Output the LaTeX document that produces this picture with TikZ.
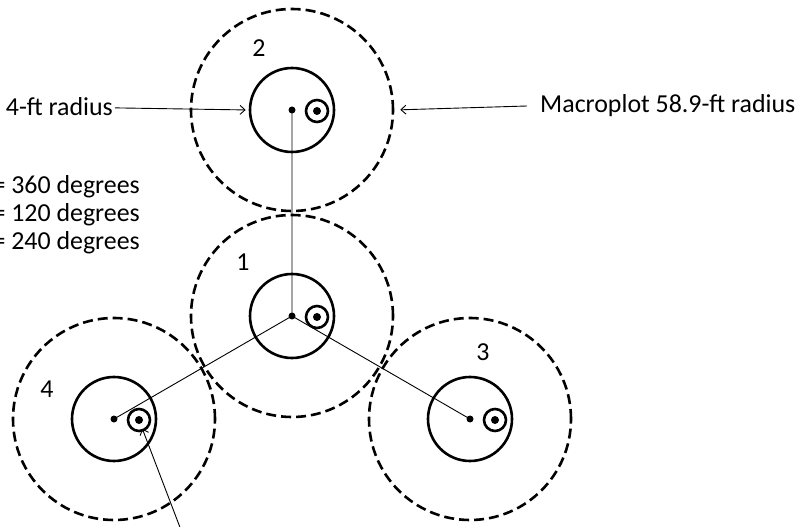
\documentclass[tikz,border=0pt]{standalone}
\usepackage{fontspec}
\setmainfont{Carlito}
\usetikzlibrary{calc,arrows.meta}

\begin{document}
\begin{tikzpicture}[x=1bp,y=-1bp,
  macro/.style={circle,draw,line width=2.6bp,dash pattern=on 10bp off 5bp,minimum size=202bp,inner sep=0pt},
  sub/.style={circle,draw,line width=2.6bp,minimum size=84bp,inner sep=0pt},
  micro/.style={circle,draw,line width=2.6bp,minimum size=22bp,inner sep=0pt},
  dot/.style={circle,fill,minimum size=7bp,inner sep=0pt},
  lbl/.style={font=\fontsize{26}{30}\selectfont,inner sep=2bp},
  arr/.style={-{Straight Barb[length=5bp,width=9bp]},line width=0.9bp}]
\useasboundingbox (0,0) rectangle (808,527);
\clip (0,0) rectangle (808,527);
% plots: macroplot, subplot, center, microplot
\foreach \n/\x/\y in {1/292/316, 2/292/110, 3/470/419, 4/114/419}{
  \coordinate (c\n) at (\x,\y);
  \node[macro] (m\n) at (c\n) {};
  \node[sub] (s\n) at (c\n) {};
  \node[dot] (d\n) at (c\n) {};
  \node[micro] (u\n) at ($(c\n)+(25,1)$) {};
  \node[dot,minimum size=8bp] at (u\n) {};
}
\draw[line width=0.9bp] (d2.center) -- (d1.center) -- (d3.center);
\draw[line width=0.9bp] (d1.center) -- (d4.center);
% plot numbers
\node[lbl] (n1) at (243,262) {1};
\node[lbl] (n2) at (259,48) {2};
\node[lbl] (n3) at (483,352) {3};
\node[lbl] (n4) at (47,389) {4};
% labels
\node[lbl,anchor=east] (tsub) at (115,107) {4-ft radius};
\draw[arr,shorten >=3bp] (tsub) -- (s2.west);
\node[lbl,anchor=west] (tmac) at (538,106) {Macroplot 58.9-ft radius};
\draw[arr,shorten >=6bp] (tmac.west) ++(-11,0) -- (m2.east);
\node[lbl,anchor=east] (deg1) at (142,187) {= 360 degrees};
\node[lbl,anchor=east] (deg2) at (142,215) {= 120 degrees};
\node[lbl,anchor=east] (deg3) at (142,243) {= 240 degrees};
\coordinate (tail) at (181,530);
\draw[arr,shorten >=-3bp] (tail) -- (u4);
\end{tikzpicture}
\end{document}
